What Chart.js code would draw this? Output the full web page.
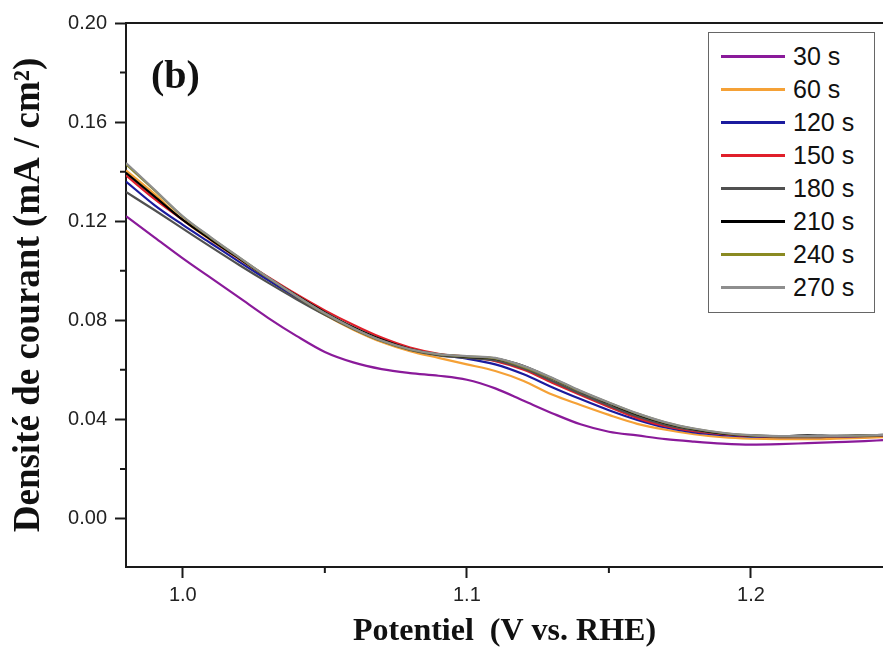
<!DOCTYPE html>
<html><head><meta charset="utf-8">
<script src="https://cdn.jsdelivr.net/npm/chart.js@4/dist/chart.umd.min.js"></script>
<style>
html,body{margin:0;padding:0;background:#fff;}
#wrap{position:relative;width:883px;height:662px;overflow:hidden;}
#tag{position:absolute;left:151px;top:55px;font:bold 40px "Liberation Serif","Times New Roman",serif;color:#111;line-height:1;}
#legend{position:absolute;left:708px;top:32px;width:167px;height:281px;border:1.5px solid #666;box-sizing:border-box;background:#fff;padding-top:7px;}
.row{display:flex;align-items:center;height:33px;}
.sw{width:64px;height:3px;margin-left:12px;margin-right:8px;}
.lb{font:25px "Liberation Sans",Arial,sans-serif;color:#111;}
</style></head><body>
<div id="wrap"><canvas id="c" width="883" height="662"></canvas><div id="tag">(b)</div><div id="legend"></div></div>
<script>
const potentials = [0.98,0.99,1.00,1.01,1.02,1.03,1.04,1.05,1.06,1.07,1.08,1.09,1.10,1.11,1.12,1.13,1.14,1.15,1.16,1.17,1.18,1.19,1.20,1.21,1.22,1.23,1.24,1.2465];
const s30  = [0.1220,0.1135,0.1050,0.0970,0.0890,0.0810,0.0737,0.0672,0.0630,0.0603,0.0587,0.0576,0.0560,0.0525,0.0475,0.0425,0.0380,0.0350,0.0335,0.0320,0.0310,0.0302,0.0298,0.0300,0.0304,0.0308,0.0312,0.0316];
const s60  = [0.1405,0.1310,0.1205,0.1122,0.1045,0.0965,0.0892,0.0822,0.0762,0.0712,0.0675,0.0648,0.0622,0.0595,0.0555,0.0500,0.0458,0.0418,0.0382,0.0358,0.0340,0.0328,0.0322,0.0320,0.0320,0.0322,0.0325,0.0328];
const s120 = [0.1360,0.1265,0.1185,0.1110,0.1035,0.0962,0.0892,0.0826,0.0768,0.0718,0.0682,0.0660,0.0645,0.0622,0.0582,0.0530,0.0482,0.0437,0.0398,0.0367,0.0347,0.0336,0.0330,0.0328,0.0328,0.0330,0.0332,0.0334];
const s150 = [0.1385,0.1290,0.1205,0.1125,0.1048,0.0975,0.0905,0.0840,0.0782,0.0730,0.0690,0.0665,0.0652,0.0635,0.0600,0.0548,0.0498,0.0450,0.0405,0.0372,0.0352,0.0340,0.0333,0.0330,0.0330,0.0331,0.0333,0.0335];
const s180 = [0.1318,0.1245,0.1170,0.1095,0.1022,0.0952,0.0885,0.0822,0.0765,0.0716,0.0680,0.0658,0.0648,0.0638,0.0605,0.0555,0.0503,0.0456,0.0412,0.0378,0.0356,0.0342,0.0335,0.0332,0.0331,0.0332,0.0334,0.0336];
const s210 = [0.1395,0.1300,0.1205,0.1125,0.1048,0.0972,0.0900,0.0832,0.0772,0.0722,0.0684,0.0662,0.0652,0.0645,0.0615,0.0565,0.0512,0.0465,0.0420,0.0385,0.0360,0.0343,0.0334,0.0332,0.0335,0.0333,0.0336,0.0337];
const s240 = [0.1430,0.1325,0.1218,0.1132,0.1052,0.0972,0.0897,0.0827,0.0767,0.0717,0.0682,0.0662,0.0654,0.0646,0.0612,0.0566,0.0513,0.0467,0.0423,0.0387,0.0362,0.0345,0.0335,0.0331,0.0331,0.0332,0.0334,0.0336];
const s270 = [0.1435,0.1328,0.1220,0.1134,0.1053,0.0973,0.0898,0.0828,0.0768,0.0718,0.0683,0.0663,0.0655,0.0648,0.0615,0.0568,0.0515,0.0468,0.0424,0.0388,0.0363,0.0346,0.0336,0.0332,0.0332,0.0333,0.0335,0.0337];
const seriesLabels = ['30 s','60 s','120 s','150 s','180 s','210 s','240 s','270 s'];
const seriesColors = ['#8a1a9a','#f5a136','#1b1b9e','#e01f2a','#505050','#000000','#8a8a22','#8e8e8e'];
const seriesValues = [s30,s60,s120,s150,s180,s210,s240,s270];
const yTickValues = [0.00,0.04,0.08,0.12,0.16,0.20];
const yMinorValues = [0.02,0.06,0.10,0.14,0.18];
const xTickValues = [1.0,1.1,1.2];
const xMinorValues = [1.05,1.15];

const axisColor = '#1a1a1a';
const datasets = seriesValues.map((vals,i)=>({
  label: seriesLabels[i],
  data: potentials.map((x,j)=>({x:x,y:vals[j]})),
  borderColor: seriesColors[i],
  backgroundColor: seriesColors[i],
  borderWidth: 2.2,
  pointRadius: 0,
  cubicInterpolationMode: 'monotone',
  fill: false,
  order: seriesValues.length - i
}));

const framePlugin = {
  id: 'frame',
  afterDraw(chart){
    const ctx = chart.ctx, a = chart.chartArea;
    const xs = chart.scales.x, ys = chart.scales.y;
    ctx.save();
    ctx.strokeStyle = axisColor;
    ctx.lineWidth = 2;
    ctx.beginPath();
    ctx.moveTo(a.left, a.top); ctx.lineTo(a.right, a.top);
    yMinorValues.forEach(v=>{const p=ys.getPixelForValue(v); ctx.moveTo(a.left, p); ctx.lineTo(a.left-6, p);});
    xMinorValues.forEach(v=>{const p=xs.getPixelForValue(v); if(p<=a.right){ctx.moveTo(p, a.bottom); ctx.lineTo(p, a.bottom+6);}});
    ctx.stroke();
    ctx.restore();
  }
};

const chart = new Chart(document.getElementById('c'), {
  type: 'line',
  data: { datasets },
  options: {
    responsive: false,
    animation: false,
    layout: { padding: { top: 23, right: 0, left: 0, bottom: 0 } },
    plugins: { legend: { display: false }, tooltip: { enabled: false } },
    scales: {
      x: {
        type: 'linear', min: 0.98, max: 1.2465,
        afterBuildTicks: s => { s.ticks = xTickValues.map(v=>({value:v})); },
        afterFit: s => { s.height = 95; },
        grid: { display: true, drawOnChartArea: false, drawTicks: true, tickLength: 11, tickWidth: 2, tickColor: axisColor },
        border: { display: true, color: axisColor, width: 2 },
        ticks: { padding: 5, color: '#222', font: { family: 'Liberation Sans', size: 20 }, maxRotation: 0,
                 callback: v => Number(v).toFixed(1) },
        title: { display: true, text: 'Potentiel  (V vs. RHE)', color: '#111',
                 font: { family: 'Liberation Serif', size: 32, weight: 'bold' }, padding: { top: 0, bottom: 11 } }
      },
      y: {
        type: 'linear', min: -0.0196, max: 0.20,
        afterBuildTicks: s => { s.ticks = yTickValues.map(v=>({value:v})); },
        afterFit: s => { s.width = 126; },
        grid: { display: true, drawOnChartArea: false, drawTicks: true, tickLength: 11, tickWidth: 2, tickColor: axisColor },
        border: { display: true, color: axisColor, width: 2 },
        ticks: { padding: 8, color: '#222', font: { family: 'Liberation Sans', size: 20 },
                 callback: v => Number(v).toFixed(2) },
        title: { display: true, text: 'Densité de courant (mA / cm²)', color: '#111',
                 font: { family: 'Liberation Serif', size: 37, weight: 'bold' }, padding: { top: 7, bottom: 0 } }
      }
    }
  },
  plugins: [framePlugin]
});

const leg = document.getElementById('legend');
chart.data.datasets.forEach(ds=>{
  const r = document.createElement('div'); r.className='row';
  const sw = document.createElement('div'); sw.className='sw'; sw.style.background = ds.borderColor;
  const lb = document.createElement('span'); lb.className='lb'; lb.textContent = ds.label;
  r.appendChild(sw); r.appendChild(lb); leg.appendChild(r);
});
</script>
</body></html>
